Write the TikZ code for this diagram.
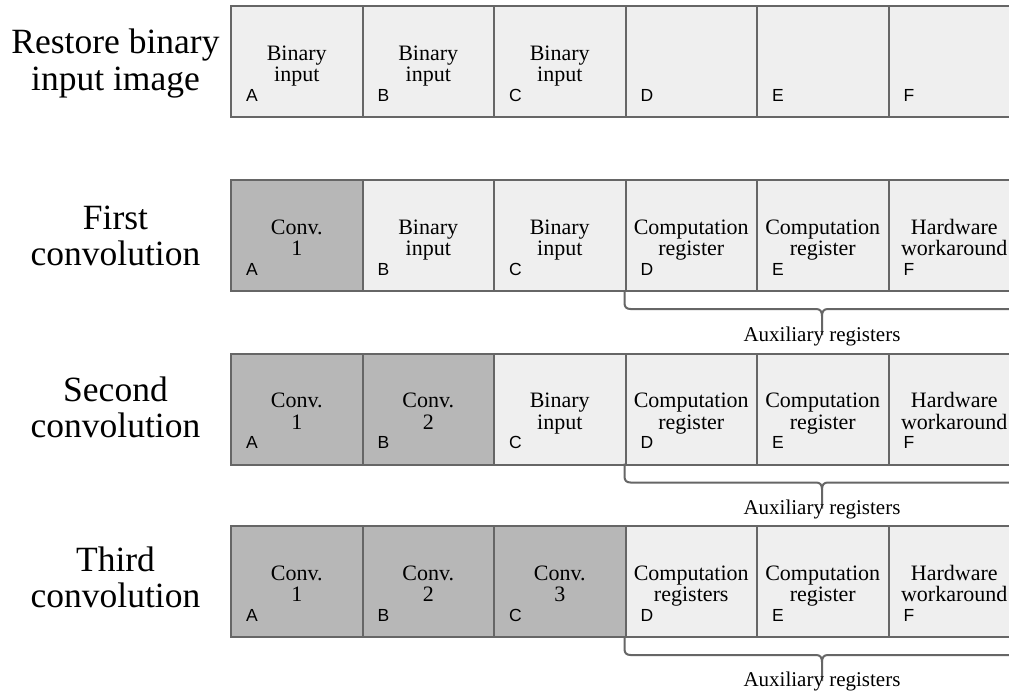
\documentclass[tikz,border=0pt]{standalone}
\usepackage{fontspec}
\setmainfont{Liberation Serif}
\newfontfamily\lsans{Liberation Sans}
\definecolor{cellLight}{HTML}{EFEFEF}
\definecolor{cellDark}{HTML}{B7B7B7}
\definecolor{edgeGray}{HTML}{666666}
\newcommand\twol[2]{\begin{tabular}[t]{@{}c@{}}#1\\#2\end{tabular}}
\newcommand\auxbrace[1]{%
  \draw[bracestyle] (624.5,#1) -- (624.5,{#1+13}) .. controls (624.5,{#1+17}) and (626.5,{#1+19}) .. (630.5,{#1+19}) -- (816,{#1+19}) .. controls (820,{#1+19}) and (822,{#1+21}) .. (822,{#1+26}) -- (822,{#1+45});
  \draw[bracestyle] (1019,#1) -- (1019,{#1+13}) .. controls (1019,{#1+17}) and (1017,{#1+19}) .. (1013,{#1+19}) -- (828,{#1+19}) .. controls (824,{#1+19}) and (822,{#1+21}) .. (822,{#1+26});
}
\tikzset{
  cellbox/.style={draw=edgeGray, line width=2pt, minimum width=131.5pt, minimum height=111pt, inner sep=0pt, anchor=north west},
  lightcell/.style={cellbox, fill=cellLight},
  darkcell/.style={cellbox, fill=cellDark},
  celltext/.style={anchor=base, inner sep=0pt, yshift=-55pt, font=\fontsize{22}{21.5}\selectfont},
  lettr/.style={anchor=base west, inner sep=0pt, xshift=16pt, yshift=-96pt, font=\lsans\fontsize{17.5}{18}\selectfont},
  titletext/.style={anchor=base, inner sep=0pt, font=\fontsize{35.5}{36}\selectfont},
  auxtext/.style={anchor=base, inner sep=0pt, font=\fontsize{21}{24}\selectfont},
  bracestyle/.style={draw=edgeGray, line width=2pt}
}
\begin{document}
\begin{tikzpicture}[x=1pt,y=-1pt]
\useasboundingbox (0,0) rectangle (1009,693);
\clip (0,0) rectangle (1009,693);
\fill[white] (0,0) rectangle (1009,693);

% ---------- Row 1
\node[titletext] (t1) at (115.5,54) {\twol{Restore binary}{input image}};
\node[lightcell] (r1a) at (230,5) {};
\node[lightcell] (r1b) at (361.5,5) {};
\node[lightcell] (r1c) at (493,5) {};
\node[lightcell] (r1d) at (624.5,5) {};
\node[lightcell] (r1e) at (756,5) {};
\node[lightcell] (r1f) at (887.5,5) {};
\node[celltext] (r1at) at (r1a.north) {\twol{Binary}{input}};
\node[celltext] (r1bt) at (r1b.north) {\twol{Binary}{input}};
\node[celltext] (r1ct) at (r1c.north) {\twol{Binary}{input}};
\node[lettr] (r1al) at (r1a.north west) {A};
\node[lettr] (r1bl) at (r1b.north west) {B};
\node[lettr] (r1cl) at (r1c.north west) {C};
\node[lettr] (r1dl) at (r1d.north west) {D};
\node[lettr] (r1el) at (r1e.north west) {E};
\node[lettr] (r1fl) at (r1f.north west) {F};

% ---------- Row 2
\node[titletext] (t2) at (115.5,229) {\twol{First}{convolution}};
\node[darkcell] (r2a) at (230,179) {};
\node[lightcell] (r2b) at (361.5,179) {};
\node[lightcell] (r2c) at (493,179) {};
\node[lightcell] (r2d) at (624.5,179) {};
\node[lightcell] (r2e) at (756,179) {};
\node[lightcell] (r2f) at (887.5,179) {};
\node[celltext] (r2at) at (r2a.north) {\twol{Conv.}{1}};
\node[celltext] (r2bt) at (r2b.north) {\twol{Binary}{input}};
\node[celltext] (r2ct) at (r2c.north) {\twol{Binary}{input}};
\node[celltext] (r2dt) at (r2d.north) {\twol{Computation}{register}};
\node[celltext] (r2et) at (r2e.north) {\twol{Computation}{register}};
\node[celltext] (r2ft) at (r2f.north) {\twol{Hardware}{workaround}};
\node[lettr] (r2al) at (r2a.north west) {A};
\node[lettr] (r2bl) at (r2b.north west) {B};
\node[lettr] (r2cl) at (r2c.north west) {C};
\node[lettr] (r2dl) at (r2d.north west) {D};
\node[lettr] (r2el) at (r2e.north west) {E};
\node[lettr] (r2fl) at (r2f.north west) {F};
\auxbrace{290}
\node[auxtext] (aux2) at (822,341) {Auxiliary registers};

% ---------- Row 3
\node[titletext] (t3) at (115.5,401) {\twol{Second}{convolution}};
\node[darkcell] (r3a) at (230,352.5) {};
\node[darkcell] (r3b) at (361.5,352.5) {};
\node[lightcell] (r3c) at (493,352.5) {};
\node[lightcell] (r3d) at (624.5,352.5) {};
\node[lightcell] (r3e) at (756,352.5) {};
\node[lightcell] (r3f) at (887.5,352.5) {};
\node[celltext] (r3at) at (r3a.north) {\twol{Conv.}{1}};
\node[celltext] (r3bt) at (r3b.north) {\twol{Conv.}{2}};
\node[celltext] (r3ct) at (r3c.north) {\twol{Binary}{input}};
\node[celltext] (r3dt) at (r3d.north) {\twol{Computation}{register}};
\node[celltext] (r3et) at (r3e.north) {\twol{Computation}{register}};
\node[celltext] (r3ft) at (r3f.north) {\twol{Hardware}{workaround}};
\node[lettr] (r3al) at (r3a.north west) {A};
\node[lettr] (r3bl) at (r3b.north west) {B};
\node[lettr] (r3cl) at (r3c.north west) {C};
\node[lettr] (r3dl) at (r3d.north west) {D};
\node[lettr] (r3el) at (r3e.north west) {E};
\node[lettr] (r3fl) at (r3f.north west) {F};
\auxbrace{463.5}
\node[auxtext] (aux3) at (822,514.5) {Auxiliary registers};

% ---------- Row 4
\node[titletext] (t4) at (115.5,571) {\twol{Third}{convolution}};
\node[darkcell] (r4a) at (230,525) {};
\node[darkcell] (r4b) at (361.5,525) {};
\node[darkcell] (r4c) at (493,525) {};
\node[lightcell] (r4d) at (624.5,525) {};
\node[lightcell] (r4e) at (756,525) {};
\node[lightcell] (r4f) at (887.5,525) {};
\node[celltext] (r4at) at (r4a.north) {\twol{Conv.}{1}};
\node[celltext] (r4bt) at (r4b.north) {\twol{Conv.}{2}};
\node[celltext] (r4ct) at (r4c.north) {\twol{Conv.}{3}};
\node[celltext] (r4dt) at (r4d.north) {\twol{Computation}{registers}};
\node[celltext] (r4et) at (r4e.north) {\twol{Computation}{register}};
\node[celltext] (r4ft) at (r4f.north) {\twol{Hardware}{workaround}};
\node[lettr] (r4al) at (r4a.north west) {A};
\node[lettr] (r4bl) at (r4b.north west) {B};
\node[lettr] (r4cl) at (r4c.north west) {C};
\node[lettr] (r4dl) at (r4d.north west) {D};
\node[lettr] (r4el) at (r4e.north west) {E};
\node[lettr] (r4fl) at (r4f.north west) {F};
\auxbrace{636}
\node[auxtext] (aux4) at (822,686.5) {Auxiliary registers};
\end{tikzpicture}
\end{document}
